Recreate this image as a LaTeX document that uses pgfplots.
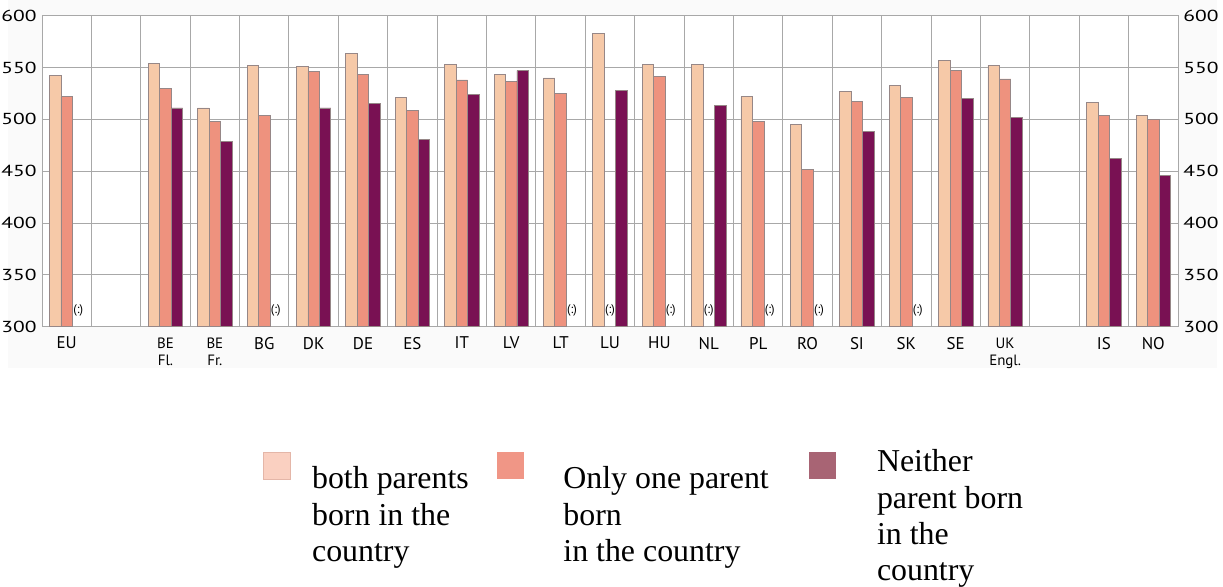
\documentclass[border=0pt]{standalone}
\usepackage{fontspec}
\setmainfont{Liberation Serif}
\newfontfamily\axfont{PT Sans}
\usepackage{graphicx}
\usepackage{pgfplots}
\pgfplotsset{compat=1.18}
\definecolor{cA}{RGB}{246,201,168}
\definecolor{cB}{RGB}{238,146,126}
\definecolor{cC}{RGB}{121,17,83}
\definecolor{edge}{RGB}{150,135,135}
\definecolor{gridc}{RGB}{168,168,168}
\definecolor{lA}{RGB}{250,208,193}
\definecolor{lAe}{RGB}{228,182,168}
\definecolor{lB}{RGB}{240,150,134}
\definecolor{lC}{RGB}{168,100,116}
\definecolor{bgc}{RGB}{250,250,250}
\newcommand{\tlt}[2]{\fontsize{7.5}{8.5}\selectfont\begin{tabular}{@{}c@{}}#1\\#2\end{tabular}}
\begin{document}
\begin{tikzpicture}
\path[use as bounding box] (0,0) rectangle (611.5bp,293.5bp);
\fill[bgc] (4bp,109.5bp) rectangle (608.5bp,293.5bp);
\begin{axis}[
  at={(21bp,130.15bp)}, anchor=south west, scale only axis,
  width=568bp, height=155.5bp,
  xmin=-0.5, xmax=22.5, ymin=300, ymax=600,
  axis background/.style={fill=white},
  ybar=0pt, bar width=0.232,
  ytick={300,350,400,450,500,550,600},
  ytick pos=left, yticklabel pos=left,
  xtick={0,2,3,4,5,6,7,8,9,10,11,12,13,14,15,16,17,18,19,21,22},
  xticklabels={EU,{\tlt{BE}{Fl.}},{\tlt{BE}{Fr.}},BG,DK,DE,ES,IT,LV,LT,LU,HU,NL,PL,RO,SI,SK,SE,{\tlt{UK}{Engl.}},IS,NO},
  minor xtick={-0.5,0.5,1.5,2.5,3.5,4.5,5.5,6.5,7.5,8.5,9.5,10.5,11.5,12.5,13.5,14.5,15.5,16.5,17.5,18.5,19.5,20.5,21.5,22.5},
  xminorgrids=true, ymajorgrids=true, xmajorgrids=false,
  grid style={gridc, line width=0.5pt},
  minor grid style={gridc, line width=0.5pt},
  major tick length=0pt, minor tick length=0pt,
  axis line style={gridc, line width=0.5pt},
  /pgf/number format/assume math mode=true,
  yticklabel={\scalebox{1.35}[1]{\pgfmathprintnumber{\tick}}},
  yticklabel style={font=\axfont\fontsize{8}{9}\selectfont, inner sep=0pt, anchor=east, xshift=-2.5bp},
  xticklabel style={font=\axfont\fontsize{8.5}{10}\selectfont, inner sep=0pt, anchor=north, yshift=-5bp},
]
\addplot[fill=cA, draw=edge, line width=0.4pt] coordinates {(0,542) (2,554) (3,511) (4,552) (5,551) (6,564) (7,521) (8,553) (9,543) (10,540) (11,583) (12,553) (13,553) (14,522) (15,495) (16,527) (17,533) (18,557) (19,552) (21,516) (22,504)};
\addplot[fill=cB, draw=edge, line width=0.4pt] coordinates {(0,522) (2,530) (3,498) (4,504) (5,546) (6,543) (7,509) (8,538) (9,537) (10,525) (12,541) (14,498) (15,452) (16,517) (17,521) (18,547) (19,539) (21,504) (22,500)};
\addplot[fill=cC, draw=edge, line width=0.4pt] coordinates {(2,511) (3,479) (5,511) (6,515) (7,481) (8,524) (9,547) (11,528) (13,513) (16,488) (18,520) (19,502) (21,462) (22,446)};
\begin{scope}[every node/.style={font=\axfont\fontsize{6.3}{7}\selectfont, inner sep=0pt}]
\node at (axis cs:0.232,316) {(:)};
\node at (axis cs:4.232,316) {(:)};
\node at (axis cs:10.232,316) {(:)};
\node at (axis cs:11,316) {(:)};
\node at (axis cs:12.232,316) {(:)};
\node at (axis cs:13,316) {(:)};
\node at (axis cs:14.232,316) {(:)};
\node at (axis cs:15.232,316) {(:)};
\node at (axis cs:17.232,316) {(:)};
\end{scope}
\end{axis}
\begin{axis}[
  at={(21bp,130.15bp)}, anchor=south west, scale only axis,
  width=568bp, height=155.5bp,
  xmin=-0.5, xmax=22.5, ymin=300, ymax=600,
  xtick=\empty,
  ytick={300,350,400,450,500,550,600},
  ytick pos=right, yticklabel pos=right,
  major tick length=0pt,
  axis line style={draw=none},
  /pgf/number format/assume math mode=true,
  yticklabel={\scalebox{1.35}[1]{\pgfmathprintnumber{\tick}}},
  yticklabel style={font=\axfont\fontsize{8}{9}\selectfont, inner sep=0pt, anchor=west, xshift=2.5bp},
]
\addplot[draw=none] coordinates {(0,300)};
\end{axis}
% legend
\draw[lAe, fill=lA, line width=0.4pt] (131.65bp,54bp) rectangle (145bp,67.35bp);
\fill[lB] (248.7bp,54bp) rectangle (262bp,67.35bp);
\fill[lC] (404.5bp,54bp) rectangle (418bp,67.35bp);
\begin{scope}[every node/.style={font=\fontsize{16}{18}\selectfont, inner sep=0pt, anchor=base west}]
\node at (155.85bp,49bp) {both parents};
\node at (155.85bp,31bp) {born in the};
\node at (155.85bp,13bp) {country};
\node at (281.5bp,49bp) {Only one parent};
\node at (281.5bp,31bp) {born};
\node at (281.5bp,13bp) {in the country};
\node at (438.3bp,57.5bp) {Neither};
\node at (438.3bp,39.5bp) {parent born};
\node at (438.3bp,21.5bp) {in the};
\node at (438.3bp,3.5bp) {country};
\end{scope}
\end{tikzpicture}
\end{document}
